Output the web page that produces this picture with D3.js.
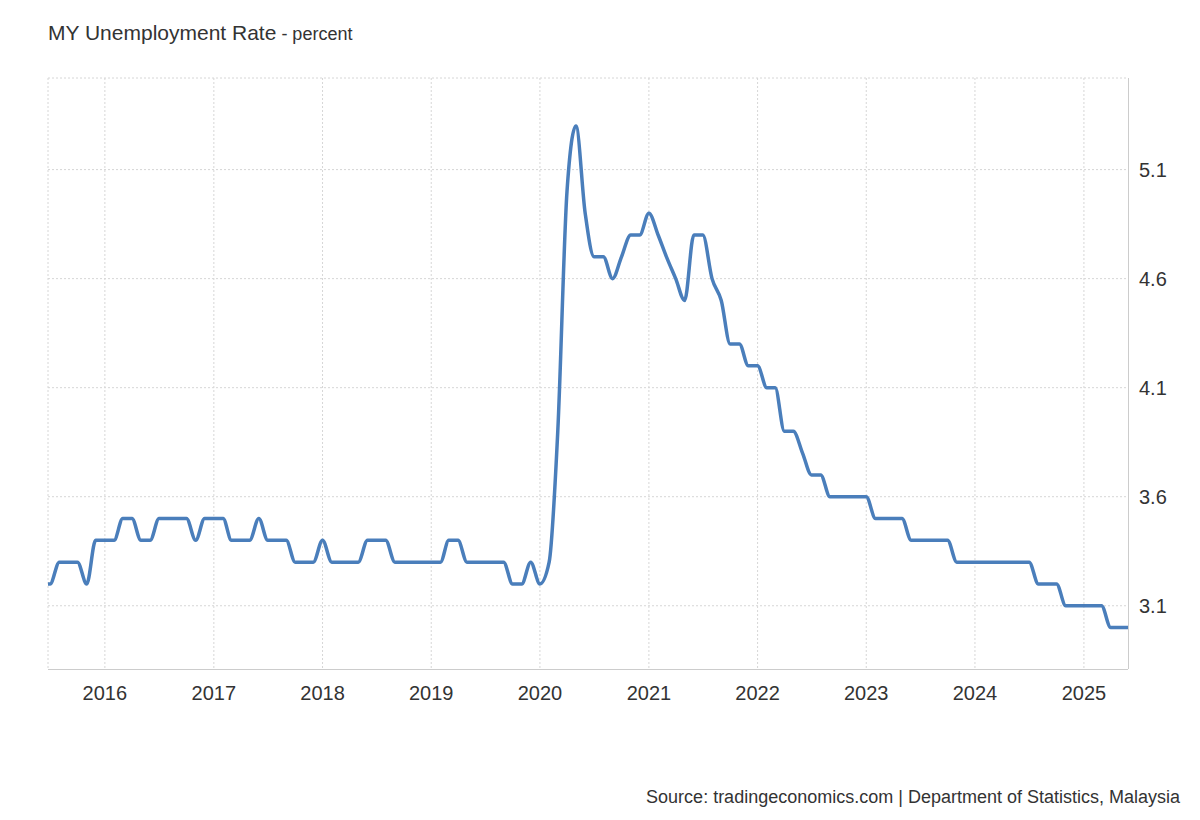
<!DOCTYPE html>
<html>
<head>
<meta charset="utf-8">
<script src="https://cdn.jsdelivr.net/npm/d3@7"></script>
<style>
  body { margin: 0; background: #fff; font-family: "Helvetica Neue", Arial, "Liberation Sans", sans-serif; }
</style>
</head>
<body>
<svg id="chart" width="1200" height="820"></svg>
<script>
// monthly values, starting June 2015
const startMonth = new Date(2015, 5, 1);
const rates = [
  3.2, 3.2, 3.3, 3.3, 3.3, 3.2, 3.4,               // 2015 Jun-Dec
  3.4, 3.4, 3.5, 3.5, 3.4, 3.4, 3.5, 3.5, 3.5, 3.5, 3.4, 3.5, // 2016
  3.5, 3.5, 3.4, 3.4, 3.4, 3.5, 3.4, 3.4, 3.4, 3.3, 3.3, 3.3, // 2017
  3.4, 3.3, 3.3, 3.3, 3.3, 3.4, 3.4, 3.4, 3.3, 3.3, 3.3, 3.3, // 2018
  3.3, 3.3, 3.4, 3.4, 3.3, 3.3, 3.3, 3.3, 3.3, 3.2, 3.2, 3.3, // 2019
  3.2, 3.3, 3.9, 5.0, 5.3, 4.9, 4.7, 4.7, 4.6, 4.7, 4.8, 4.8, // 2020
  4.9, 4.8, 4.7, 4.6, 4.5, 4.8, 4.8, 4.6, 4.5, 4.3, 4.3, 4.2, // 2021
  4.2, 4.1, 4.1, 3.9, 3.9, 3.8, 3.7, 3.7, 3.6, 3.6, 3.6, 3.6, // 2022
  3.6, 3.5, 3.5, 3.5, 3.5, 3.4, 3.4, 3.4, 3.4, 3.4, 3.3, 3.3, // 2023
  3.3, 3.3, 3.3, 3.3, 3.3, 3.3, 3.3, 3.2, 3.2, 3.2, 3.1, 3.1, // 2024
  3.1, 3.1, 3.1, 3.0, 3.0, 3.0                        // 2025 Jan-Jun
];
const yTicks = [3.1, 3.6, 4.1, 4.6, 5.1];
const yearTicks = [2016, 2017, 2018, 2019, 2020, 2021, 2022, 2023, 2024, 2025];

const data = rates.map((v, i) => ({ date: d3.timeMonth.offset(startMonth, i), value: v }));

const svg = d3.select("#chart");
const pLeft = 48, pRight = 1128, pTop = 78, pBottom = 669;

const x = d3.scaleTime()
  .domain([new Date(2015, 5, 24), new Date(2025, 4, 29)])
  .range([pLeft, pRight]);
const y = d3.scaleLinear().domain([2.81, 5.52]).range([pBottom, pTop]);

svg.append("clipPath").attr("id", "plot")
  .append("rect").attr("x", pLeft).attr("y", pTop - 10)
  .attr("width", pRight - pLeft).attr("height", pBottom - pTop + 10);

// grid
const grid = svg.append("g").attr("stroke", "#d6d6d6").attr("stroke-dasharray", "2,2");
yearTicks.forEach(yr => grid.append("line")
  .attr("x1", x(new Date(yr, 0, 1))).attr("x2", x(new Date(yr, 0, 1)))
  .attr("y1", pTop).attr("y2", pBottom));
yTicks.forEach(t => grid.append("line")
  .attr("x1", pLeft).attr("x2", pRight).attr("y1", y(t)).attr("y2", y(t)));
grid.append("line").attr("x1", pLeft).attr("x2", pRight).attr("y1", pTop).attr("y2", pTop);
grid.append("line").attr("x1", pLeft).attr("x2", pLeft).attr("y1", pTop).attr("y2", pBottom);

// frame lines
svg.append("line").attr("x1", pRight + 0.5).attr("x2", pRight + 0.5).attr("y1", pTop).attr("y2", pBottom)
  .attr("stroke", "#ccc");
svg.append("line").attr("x1", pLeft).attr("x2", pRight).attr("y1", pBottom + 0.5).attr("y2", pBottom + 0.5)
  .attr("stroke", "#ccc");

// axis labels
svg.append("g").selectAll("text").data(yTicks).join("text")
  .attr("x", 1139).attr("y", d => y(d) + 7)
  .attr("font-size", 20).attr("fill", "#333")
  .text(d => d.toFixed(1));

svg.append("g").selectAll("text").data(yearTicks).join("text")
  .attr("x", d => x(new Date(d, 0, 1))).attr("y", 700)
  .attr("text-anchor", "middle").attr("font-size", 20).attr("fill", "#333")
  .text(d => d);

// line
svg.append("path").datum(data)
  .attr("clip-path", "url(#plot)")
  .attr("fill", "none").attr("stroke", "#4a7ebb").attr("stroke-width", 3.5)
  .attr("stroke-linejoin", "round")
  .attr("d", d3.line().x(d => x(d.date)).y(d => y(d.value)).curve(d3.curveMonotoneX));

// title
const title = svg.append("text").attr("x", 48).attr("y", 40).attr("fill", "#333");
title.append("tspan").attr("font-size", 21).text("MY Unemployment Rate");
title.append("tspan").attr("font-size", 18).text(" - percent");

svg.append("text").attr("x", 1180).attr("y", 803).attr("text-anchor", "end")
  .attr("font-size", 18).attr("fill", "#333")
  .text("Source: tradingeconomics.com | Department of Statistics, Malaysia");
</script>
</body>
</html>
